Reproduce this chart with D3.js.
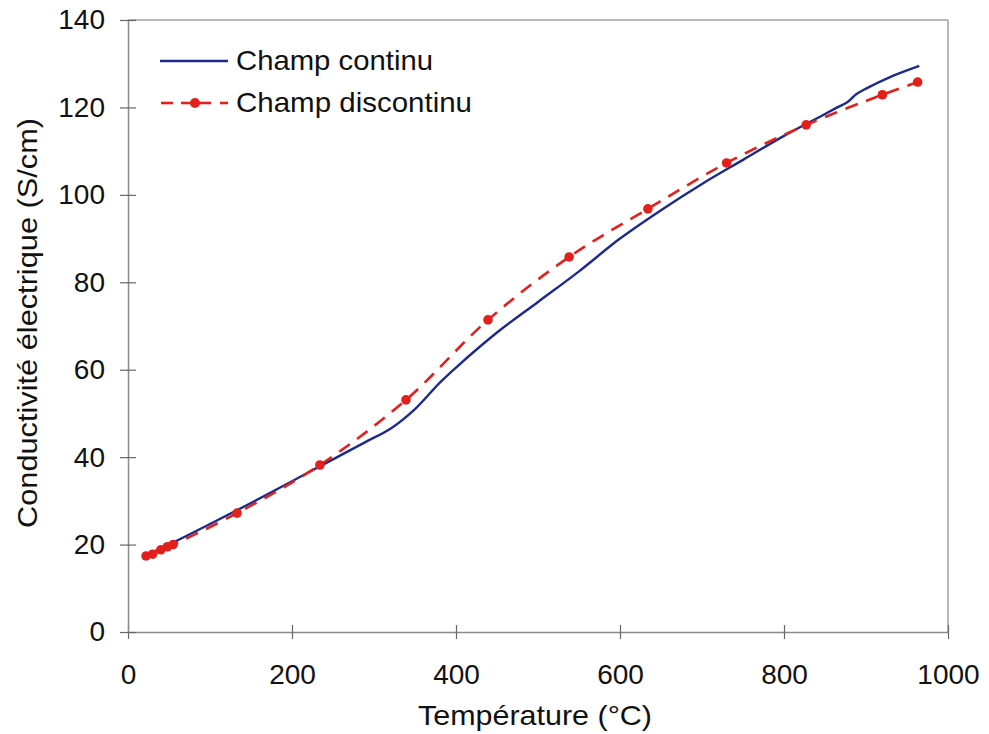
<!DOCTYPE html>
<html><head><meta charset="utf-8">
<script src="https://cdn.jsdelivr.net/npm/d3@7"></script>
<style>body{margin:0;background:#fff}svg text{font-family:"Liberation Sans",Arial,sans-serif;fill:#111}</style>
</head><body><svg id="c" width="989" height="734"></svg>
<script>
const contTemp = [25,50,100,150,200,250,290,320,350,380,400,450,500,550,600,650,700,750,800,850,865,878,888,900,930,965];
const contCond = [17.8,20,24.7,29.5,34.5,39.5,43.5,46.5,51,57,60.5,68.5,75.5,82.5,90,96.5,102.5,108,113.5,118.5,120,121.3,123,124.3,127,129.5];
const discTemp = [22,30,40,48,55,133,234,339,439,538,634,730,827,920,963];
const discCond = [17.4,17.8,18.8,19.5,20,27.2,38.2,53.1,71.4,85.8,96.8,107.3,116,122.9,125.8];
const xTicks = [0,200,400,600,800,1000];
const yTicks = [0,20,40,60,80,100,120,140];
const seriesNames = ["Champ continu","Champ discontinu"];

const svg = d3.select("#c");
const L=128,R=948,T=20,B=632;
const x=d3.scaleLinear().domain([0,1000]).range([L,R]);
const y=d3.scaleLinear().domain([0,140]).range([B,T]);
const FONT="Liberation Sans, Arial, sans-serif";

// frame
svg.append("line").attr("x1",L).attr("x2",R).attr("y1",T).attr("y2",T).attr("stroke","#a0a0a0").attr("stroke-width",1.5);
svg.append("line").attr("x1",R).attr("x2",R).attr("y1",T).attr("y2",B).attr("stroke","#a0a0a0").attr("stroke-width",1.5);

const xa=svg.append("g").attr("transform",`translate(0,${B})`).attr("font-size",28)
  .call(d3.axisBottom(x).tickValues(xTicks).tickFormat(d3.format("d")).tickSize(0).tickPadding(32));
xa.select(".domain").attr("stroke","#8a8a8a").attr("stroke-width",1.5);
xa.selectAll(".tick text").attr("font-size",28).attr("font-family",FONT).attr("fill","#111");
xa.selectAll(".tick").append("line").attr("y1",-7).attr("y2",7).attr("stroke","#666").attr("stroke-width",1.2);

const ya=svg.append("g").attr("transform",`translate(${L},0)`).attr("font-size",28)
  .call(d3.axisLeft(y).tickValues(yTicks).tickSize(0).tickPadding(23));
ya.select(".domain").attr("stroke","#8a8a8a").attr("stroke-width",1.5);
ya.selectAll(".tick text").attr("font-size",28).attr("font-family",FONT).attr("fill","#111");
ya.selectAll(".tick").append("line").attr("x1",-8).attr("x2",8).attr("stroke","#666").attr("stroke-width",1.2);

svg.append("text").attr("x",535).attr("y",725).attr("text-anchor","middle").attr("font-size",28)
  .attr("textLength",234).attr("lengthAdjust","spacingAndGlyphs").text("Température (°C)");
svg.append("text").attr("transform","translate(37,323) rotate(-90)").attr("text-anchor","middle").attr("font-size",28)
  .attr("textLength",410).attr("lengthAdjust","spacingAndGlyphs").text("Conductivité électrique (S/cm)");

const contData=contTemp.map((t,i)=>[t,contCond[i]]);
const discData=discTemp.map((t,i)=>[t,discCond[i]]);
const line=d3.line().x(d=>x(d[0])).y(d=>y(d[1])).curve(d3.curveCatmullRom.alpha(0.5));

svg.append("path").datum(contData).attr("d",line).attr("fill","none").attr("stroke","#1b2a8c").attr("stroke-width",2.4);
svg.append("path").datum(discData).attr("d",line).attr("fill","none").attr("stroke","#e3201b").attr("stroke-width",2.6).attr("stroke-dasharray","13,9");
svg.selectAll("circle.d").data(discData).join("circle").attr("class","d").attr("cx",d=>x(d[0])).attr("cy",d=>y(d[1])).attr("r",4.8).attr("fill","#e3201b");

// legend
const lg=svg.append("g");
lg.append("line").attr("x1",160).attr("x2",228).attr("y1",61).attr("y2",61).attr("stroke","#1b2a8c").attr("stroke-width",2.4);
lg.append("text").attr("x",236).attr("y",70).attr("font-size",28).attr("textLength",197).attr("lengthAdjust","spacingAndGlyphs").text(seriesNames[0]);
[[161,173],[181,211],[220,228]].forEach(s=>lg.append("line").attr("x1",s[0]).attr("x2",s[1]).attr("y1",103).attr("y2",103).attr("stroke","#e3201b").attr("stroke-width",2.6));
lg.append("circle").attr("cx",195).attr("cy",103).attr("r",5).attr("fill","#e3201b");
lg.append("text").attr("x",236).attr("y",112).attr("font-size",28).attr("textLength",236).attr("lengthAdjust","spacingAndGlyphs").text(seriesNames[1]);
</script></body></html>
